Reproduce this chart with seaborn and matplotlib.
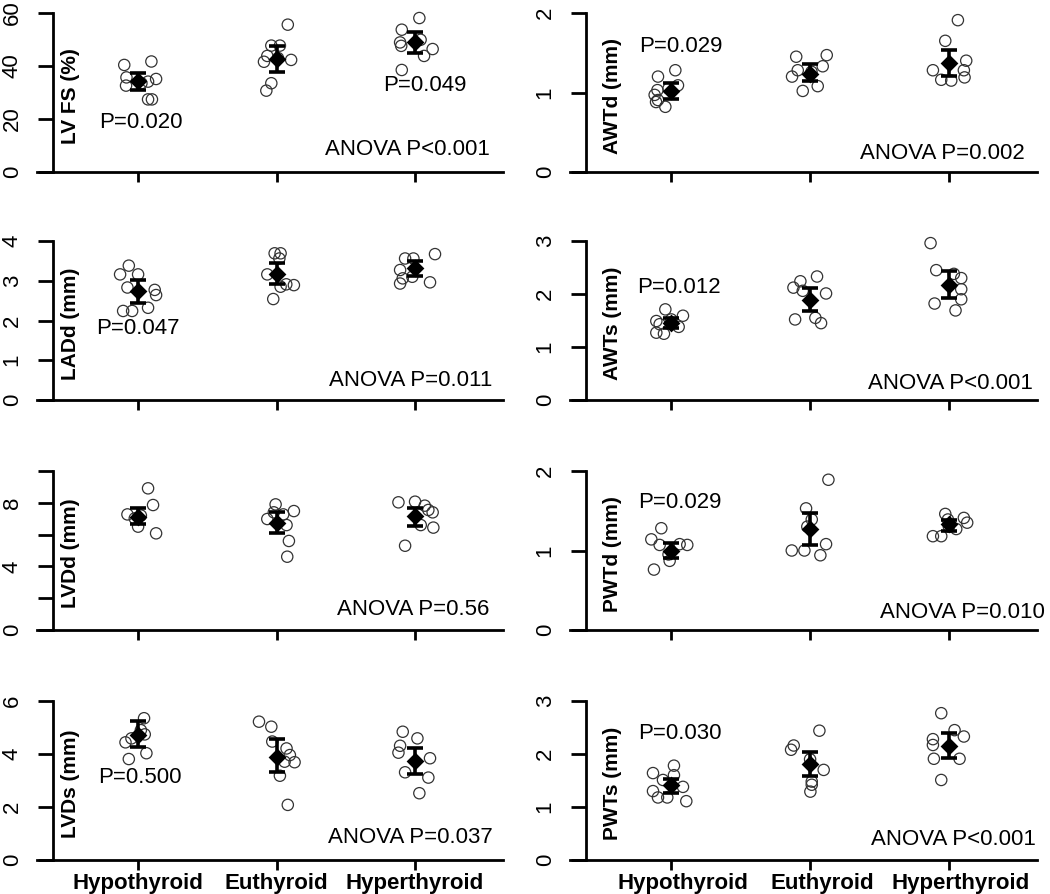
import matplotlib
matplotlib.use("Agg")
import matplotlib.pyplot as plt
import seaborn as sns
import pandas as pd
import numpy as np
from matplotlib.transforms import ScaledTranslation

# ---------------- data ----------------
groups = ["Hypothyroid", "Euthyroid", "Hyperthyroid"]

# LV FS (%)
lvfs_vals = [[40.4, 41.7, 35.7, 32.6, 34.1, 35.1, 27.4, 27.4, 33.5],
             [55.6, 47.7, 47.7, 43.8, 41.6, 42.3, 33.5, 30.7, 43.0],
             [58.1, 53.7, 48.9, 47.6, 46.4, 43.8, 38.5, 49.9]]
lvfs_dx = [[-0.10, 0.096, -0.084, -0.087, 0.072, 0.13, 0.072, 0.10, 0.024],
           [0.081, -0.038, 0.024, -0.067, -0.091, 0.105, -0.038, -0.074, 0.01],
           [0.031, -0.096, -0.108, -0.10, 0.127, 0.065, -0.096, 0.04]]
lvfs_mean = [34.4, 42.6, 49.0]
lvfs_lo = [30.9, 37.9, 44.8]
lvfs_hi = [37.5, 47.4, 52.8]

# AWTd (mm)
awtd_vals = [[1.20, 1.28, 1.09, 1.03, 0.97, 0.905, 0.88, 0.82, 1.05],
             [1.45, 1.47, 1.28, 1.33, 1.20, 1.08, 1.02, 1.26],
             [1.91, 1.65, 1.28, 1.40, 1.28, 1.19, 1.15, 1.16]]
awtd_dx = [[-0.096, 0.029, 0.048, -0.10, -0.12, -0.096, -0.11, -0.043, -0.02],
           [-0.10, 0.12, -0.089, 0.091, -0.13, 0.055, -0.053, 0.01],
           [0.065, -0.026, -0.115, 0.125, 0.108, 0.113, 0.017, -0.055]]
awtd_mean = [1.02, 1.23, 1.37]
awtd_lo = [0.92, 1.15, 1.21]
awtd_hi = [1.12, 1.36, 1.54]

# LADd (mm)
ladd_vals = [[3.38, 3.16, 3.16, 2.83, 2.77, 2.64, 2.24, 2.24, 2.32],
             [3.69, 3.69, 3.56, 3.16, 2.85, 2.89, 2.91, 2.54],
             [3.56, 3.56, 3.67, 3.27, 3.06, 2.93, 2.96, 3.10]]
ladd_dx = [[-0.067, -0.13, 0.0, -0.077, 0.12, 0.13, -0.108, -0.043, 0.072],
           [-0.014, 0.029, 0.02, -0.067, 0.029, 0.125, 0.07, -0.024],
           [-0.072, -0.012, 0.144, -0.108, -0.089, -0.108, 0.108, -0.02]]
ladd_mean = [2.73, 3.17, 3.31]
ladd_lo = [2.45, 2.92, 3.12]
ladd_hi = [3.02, 3.44, 3.50]

# AWTs (mm)
awts_vals = [[1.71, 1.59, 1.49, 1.43, 1.27, 1.25, 1.38, 1.52],
             [2.33, 2.24, 2.12, 2.06, 2.01, 1.55, 1.52, 1.45],
             [2.96, 2.45, 2.38, 2.30, 2.09, 1.90, 1.82, 1.69]]
awts_dx = [[-0.043, 0.084, -0.108, -0.084, -0.108, -0.053, 0.053, 0.0],
           [0.05, -0.07, -0.12, -0.053, 0.115, 0.038, -0.108, 0.079],
           [-0.132, -0.091, 0.036, 0.089, 0.089, 0.089, -0.103, 0.048]]
awts_mean = [1.46, 1.88, 2.17]
awts_lo = [1.35, 1.67, 1.92]
awts_hi = [1.54, 2.11, 2.43]

# LVDd (mm)
lvdd_vals = [[8.91, 7.86, 7.27, 7.02, 6.50, 6.08, 7.2],
             [7.90, 7.48, 6.98, 7.27, 6.60, 5.60, 4.61, 7.4],
             [8.03, 8.07, 7.82, 7.55, 7.40, 6.60, 6.44, 5.30]]
lvdd_dx = [[0.072, 0.108, -0.077, -0.024, 0.0, 0.13, 0.02],
           [-0.007, 0.125, -0.067, 0.048, 0.072, 0.089, 0.077, -0.02],
           [-0.12, 0.0, 0.07, 0.096, 0.127, 0.041, 0.132, -0.072]]
lvdd_mean = [7.13, 6.71, 7.19]
lvdd_lo = [6.65, 6.08, 6.52]
lvdd_hi = [7.65, 7.40, 7.69]

# PWTd (mm)
pwtd_vals = [[1.28, 1.14, 1.07, 1.08, 1.07, 0.87, 0.76, 0.95],
             [1.89, 1.53, 1.39, 1.00, 1.00, 1.08, 0.94, 1.30],
             [1.46, 1.39, 1.41, 1.35, 1.18, 1.18, 1.27, 1.30]]
pwtd_dx = [[-0.072, -0.144, -0.084, 0.06, 0.115, -0.012, -0.125, -0.02],
           [0.132, -0.029, 0.012, -0.132, -0.041, 0.115, 0.074, -0.02],
           [-0.026, -0.007, 0.108, 0.132, -0.115, -0.055, 0.053, 0.0]]
pwtd_mean = [0.99, 1.27, 1.33]
pwtd_lo = [0.90, 1.07, 1.24]
pwtd_hi = [1.10, 1.47, 1.38]

# LVDs (mm)
lvds_vals = [[5.35, 4.74, 4.59, 4.44, 3.81, 4.03, 4.9],
             [5.22, 5.03, 4.47, 4.21, 3.96, 3.69, 3.71, 3.18, 2.08],
             [4.84, 4.59, 4.31, 4.05, 3.84, 3.31, 3.11, 2.52]]
lvds_dx = [[0.043, 0.048, -0.048, -0.091, -0.067, 0.06, 0.02],
           [-0.127, -0.038, -0.031, 0.072, 0.096, 0.13, 0.058, 0.024, 0.081],
           [-0.089, 0.017, -0.108, -0.12, 0.108, -0.072, 0.096, 0.031]]
lvds_mean = [4.72, 3.90, 3.74]
lvds_lo = [4.25, 3.31, 3.23]
lvds_hi = [5.25, 4.57, 4.21]

# PWTs (mm)
pwts_vals = [[1.78, 1.64, 1.51, 1.60, 1.38, 1.30, 1.18, 1.18, 1.11],
             [2.44, 2.16, 2.08, 1.70, 1.90, 1.48, 1.29, 1.42],
             [2.77, 2.45, 2.33, 2.28, 2.17, 1.91, 1.91, 1.51]]
pwts_dx = [[0.019, -0.132, -0.06, 0.019, 0.084, -0.132, -0.096, -0.029, 0.108],
           [0.067, -0.118, -0.137, 0.098, 0.0, 0.012, 0.002, 0.012],
           [-0.055, 0.041, 0.108, -0.115, -0.115, -0.108, 0.077, -0.055]]
pwts_mean = [1.42, 1.82, 2.15]
pwts_lo = [1.26, 1.59, 1.92]
pwts_hi = [1.53, 2.04, 2.39]

ylabels = ["LV FS (%)", "AWTd (mm)", "LADd (mm)", "AWTs (mm)",
           "LVDd (mm)", "PWTd (mm)", "LVDs (mm)", "PWTs (mm)"]
yticks = [[0, 20, 40, 60], [0, 1, 2], [0, 1, 2, 3, 4], [0, 1, 2, 3],
          [0, 2, 4, 6, 8, 10], [0, 1, 2], [0, 2, 4, 6], [0, 1, 2, 3]]
yticklabels = [["0", "20", "40", "60"], ["0", "1", "2"], ["0", "1", "2", "3", "4"],
               ["0", "1", "2", "3"], ["0", "", "4", "", "8", ""], ["0", "1", "2"],
               ["0", "2", "4", "6"], ["0", "1", "2", "3"]]
anova_text = ["ANOVA P<0.001", "ANOVA P=0.002", "ANOVA P=0.011", "ANOVA P<0.001",
              "ANOVA P=0.56", "ANOVA P=0.010", "ANOVA P=0.037", "ANOVA P<0.001"]
anova_pos = [(2.54, 8.5), (2.545, 0.23), (2.56, 0.50), (2.605, 0.32),
             (2.54, 1.26), (2.69, 0.225), (2.56, 0.84), (2.63, 0.38)]
# pairwise P texts: (panel, x, y, text)
ptexts = [(0, 0.02, 18.6, "P=0.020"), (0, 2.07, 32.8, "P=0.049"),
          (1, 0.065, 1.58, "P=0.029"), (2, 0.0, 1.79, "P=0.047"),
          (3, 0.053, 2.12, "P=0.012"), (5, 0.06, 1.61, "P=0.029"),
          (6, 0.01, 3.11, "P=0.500"), (7, 0.06, 2.39, "P=0.030")]

panels = [
    (lvfs_vals, lvfs_dx, lvfs_mean, lvfs_lo, lvfs_hi),
    (awtd_vals, awtd_dx, awtd_mean, awtd_lo, awtd_hi),
    (ladd_vals, ladd_dx, ladd_mean, ladd_lo, ladd_hi),
    (awts_vals, awts_dx, awts_mean, awts_lo, awts_hi),
    (lvdd_vals, lvdd_dx, lvdd_mean, lvdd_lo, lvdd_hi),
    (pwtd_vals, pwtd_dx, pwtd_mean, pwtd_lo, pwtd_hi),
    (lvds_vals, lvds_dx, lvds_mean, lvds_lo, lvds_hi),
    (pwts_vals, pwts_dx, pwts_mean, pwts_lo, pwts_hi),
]

# ---------------- style ----------------
sns.set_style("ticks", rc={"axes.edgecolor": "black", "xtick.color": "black",
                           "ytick.color": "black", "text.color": "black",
                           "axes.labelcolor": "black"})
plt.rcParams['font.family'] = ['Liberation Sans', 'DejaVu Sans']

fig = plt.figure(figsize=(10.5, 8.94), dpi=100)
W, H = 1050, 894
col_left = [37 / W, 570 / W]
col_w = [466 / W, 467 / W]
row_bottom = [1 - 172 / H, 1 - 400 / H, 1 - 630 / H, 1 - 860 / H]
row_h = 159 / H
ylab_x = [0.071, 0.092]

axes = []
for i, (vals, dxs, mean, lo, hi) in enumerate(panels):
    r, c = divmod(i, 2)
    ax = fig.add_axes([col_left[c], row_bottom[r], col_w[c], row_h])
    axes.append(ax)

    rows = []
    for g, (gv, gd) in enumerate(zip(vals, dxs)):
        for v, d in zip(gv, gd):
            rows.append({"x": g + d, "y": v})
    df = pd.DataFrame(rows)
    sns.scatterplot(data=df, x="x", y="y", ax=ax, marker="o", s=66,
                    facecolors="none", edgecolors="#333333", linewidths=0.9,
                    legend=False, zorder=2, clip_on=False)

    xs = np.arange(3)
    mean = np.array(mean)
    ax.errorbar(xs, mean, yerr=[mean - np.array(lo), np.array(hi) - mean],
                fmt="none", ecolor="black", elinewidth=2.6, capsize=5.5,
                capthick=2.6, zorder=3, clip_on=False)
    sns.scatterplot(x=xs, y=mean, ax=ax, marker="D", s=82, color="black",
                    edgecolor="black", linewidth=0, zorder=4, legend=False,
                    clip_on=False)

    ax.set_xlim(-0.73, 2.635)
    ax.set_ylim(0, yticks[i][-1])
    ax.spines[["top", "right"]].set_visible(False)
    ax.spines["left"].set_position(("data", -0.615))
    ax.spines["left"].set_linewidth(2)
    ax.spines["bottom"].set_linewidth(2)
    ax.set_yticks(yticks[i])
    ax.set_yticklabels(yticklabels[i], rotation=90, va="center", fontsize=16)
    ax.tick_params(axis="y", length=10.8, width=2, pad=11)
    ax.set_xticks(xs)
    ax.tick_params(axis="x", length=7, width=2, pad=2)
    if r == 3:
        ax.set_xticklabels(groups, fontweight="bold", fontsize=16)
    else:
        ax.set_xticklabels([])
    ax.set_xlabel("")
    ax.set_ylabel("")
    ax.text(ylab_x[c], 0.48, ylabels[i], transform=ax.transAxes, rotation=90,
            ha="center", va="center", fontsize=15, fontweight="bold")
    ax.text(anova_pos[i][0], anova_pos[i][1], anova_text[i], ha="right",
            va="center", fontsize=16)

for (pi, x, y, t) in ptexts:
    axes[pi].text(x, y, t, ha="center", va="center", fontsize=16)

# right-column category labels sit slightly right of their ticks
for ax in (axes[7],):
    for lbl in ax.get_xticklabels():
        lbl.set_transform(lbl.get_transform() +
                          ScaledTranslation(12 / 100, 0, fig.dpi_scale_trans))

fig.savefig("out.png", dpi=100)
